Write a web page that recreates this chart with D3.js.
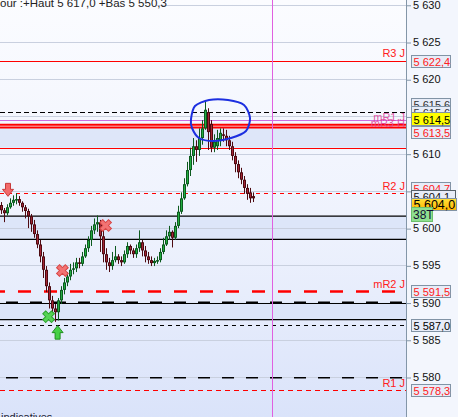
<!DOCTYPE html>
<html><head><meta charset="utf-8">
<script src="https://cdn.jsdelivr.net/npm/d3@7"></script>
<style>html,body{margin:0;padding:0;overflow:hidden;background:#f6f8fe}svg{display:block}</style>
</head><body><svg id="c" width="458" height="417"></svg>
<script>
// ---- data ----
const opens  = [5603.1,5602.4,5602.0,5602.8,5603.4,5603.8,5603.9,5603.4,5602.8,5602.3,5601.6,5600.5,5599.2,5597.8,5596.2,5594.4,5592.2,5590.3,5589.2,5588.7,5590.3,5591.7,5592.7,5593.5,5594.4,5594.6,5595.4,5595.2,5596.2,5597.3,5598.4,5599.7,5600.5,5600.8,5598.9,5596.5,5595.4,5594.9,5595.7,5596.2,5595.7,5595.4,5596.5,5597.6,5597.0,5596.5,5597.3,5598.1,5597.0,5596.2,5595.7,5595.3,5595.6,5595.7,5596.8,5597.8,5598.9,5599.5,5598.7,5600.3,5602.2,5604.0,5605.9,5607.8,5609.7,5611.0,5610.5,5612.1,5613.4,5615.6,5614.0,5610.8,5611.0,5611.8,5612.6,5612.4,5611.8,5611.0,5609.7,5608.6,5607.5,5606.5,5605.4,5604.8,5604.3];
const highs  = [5603.5,5602.7,5603.2,5604.0,5604.4,5604.7,5604.3,5603.6,5603.1,5602.6,5601.9,5601.1,5599.7,5598.4,5596.8,5594.9,5592.7,5590.9,5589.8,5590.6,5592.2,5593.3,5594.1,5595.2,5595.4,5596.0,5596.0,5596.8,5597.8,5598.9,5600.3,5601.3,5601.7,5601.1,5599.7,5597.3,5596.0,5596.8,5597.6,5596.5,5596.2,5597.0,5598.1,5597.8,5597.3,5597.8,5599.7,5598.4,5597.6,5596.8,5596.2,5596.0,5596.2,5597.3,5598.7,5599.7,5600.3,5599.7,5600.8,5603.0,5604.8,5606.7,5608.9,5610.8,5612.1,5611.8,5613.4,5614.5,5617.0,5616.1,5614.5,5612.6,5613.2,5613.4,5613.4,5613.2,5612.4,5611.6,5610.2,5609.1,5608.1,5607.0,5605.9,5605.4,5604.8];
const lows   = [5601.9,5600.8,5601.7,5602.6,5603.0,5603.2,5603.0,5602.2,5601.3,5600.0,5599.5,5598.7,5597.3,5595.4,5593.3,5591.4,5589.2,5588.2,5587.4,5587.6,5589.8,5591.1,5592.2,5593.0,5593.8,5594.1,5594.6,5594.9,5596.0,5596.8,5597.6,5599.2,5599.5,5596.8,5595.4,5594.4,5594.1,5594.4,5595.4,5595.2,5594.9,5595.2,5596.0,5596.5,5596.0,5596.0,5596.8,5596.2,5595.4,5595.2,5594.9,5594.9,5595.2,5595.4,5596.5,5597.6,5598.4,5597.4,5598.4,5600.0,5601.9,5603.8,5605.6,5607.0,5608.5,5608.9,5609.7,5611.2,5613.2,5610.5,5610.2,5610.2,5610.5,5611.0,5611.6,5611.0,5610.5,5609.1,5607.5,5606.7,5605.9,5604.6,5603.8,5603.4,5603.5];
const closes = [5602.4,5602.0,5602.8,5603.4,5603.8,5603.9,5603.4,5602.8,5602.3,5601.6,5600.5,5599.2,5597.8,5596.2,5594.4,5592.2,5590.3,5589.2,5588.7,5590.3,5591.7,5592.7,5593.5,5594.4,5594.6,5595.4,5595.2,5596.2,5597.3,5598.4,5599.7,5600.5,5600.8,5598.9,5596.5,5595.4,5594.9,5595.7,5596.2,5595.7,5595.4,5596.5,5597.6,5597.0,5596.5,5597.3,5598.1,5597.0,5596.2,5595.7,5595.3,5595.6,5595.7,5596.8,5597.8,5598.9,5599.5,5598.7,5600.3,5602.2,5604.0,5605.9,5607.8,5609.7,5611.0,5610.5,5612.1,5613.4,5615.9,5612.9,5610.8,5611.6,5612.1,5612.8,5612.4,5611.8,5611.0,5609.7,5608.6,5607.5,5606.5,5605.4,5604.6,5604.0,5604.0];
const yTicks = [5580,5585,5590,5595,5600,5605,5610,5615,5620,5625,5630];
const lineLevels = [5622.4,5615.6,5614.5,5613.9,5613.5,5610.8,5604.7,5601.6,5598.5,5591.5,5590.0,5590.0,5587.7,5587.0,5579.9,5578.3];
const levelNames = ["R3 J","mR1 J","mR3 H","R2 J","mR2 J","R1 J"];
const levelNameVals = [5622.4,5614.6,5614.2,5604.7,5591.5,5578.3];
const priceLabels = [5622.4,5615.6,5615.6,5614.5,5613.5,5604.7,5604.1,5604.0,5591.5,5587.0,5578.3];
const headerText = "our :+Haut 5 617,0 +Bas 5 550,3";
const footerText = "indicatives";
const timerText = "38T";
const buySignals = [[15.7,5588.1]];                // green cross (bar position, price)
const sellSignals = [[20.3,5594.3],[34.7,5600.35]]; // red crosses
const downArrow = [2,5604.4];
const upArrow = [18.7,5586.9];
const bandPairs = [[5613.5,5610.8],[5601.6,5598.5],[5590.0,5587.7]];
const vLineIndex = 90.3;

// ---- setup ----
const W=458,H=417, AX=406;
const svg=d3.select('#c');
const FONT='"Liberation Sans", Arial, sans-serif';
const loc=d3.formatLocale({decimal:",",thousands:" ",grouping:[3],currency:["",""]});
const f1=loc.format(",.1f"), f0=loc.format(",.0f");
const x=d3.scaleLinear().domain([0,closes.length-1]).range([1.5,253.5]);
const y=d3.scaleLinear().domain([5580,5625]).range([377,42]);
const py=v=>Math.round(y(v))+0.5;

const defs=svg.append('defs');
const g1=defs.append('linearGradient').attr('id','bg').attr('x1',0).attr('y1',0).attr('x2',0).attr('y2',1);
g1.append('stop').attr('offset',0).attr('stop-color','#fbfcff');
g1.append('stop').attr('offset',0.55).attr('stop-color','#eef2fd');
g1.append('stop').attr('offset',1).attr('stop-color','#dae3fa');
const g2=defs.append('linearGradient').attr('id','org').attr('x1',0).attr('y1',0).attr('x2',0).attr('y2',1);
g2.append('stop').attr('offset',0).attr('stop-color','#ffe23a');
g2.append('stop').attr('offset',1).attr('stop-color','#ffb300');

svg.append('rect').attr('width',W).attr('height',H).attr('fill','url(#bg)');
svg.append('rect').attr('x',AX).attr('width',W-AX).attr('height',H).attr('fill','#f3f6fd');

// bands
svg.selectAll('.band').data(bandPairs).enter().append('rect')
  .attr('x',0).attr('width',AX).attr('y',d=>y(d[0])).attr('height',d=>y(d[1])-y(d[0]))
  .attr('fill','#d8e2f8').attr('opacity',0.8);

// grid
svg.selectAll('.grid').data(yTicks).enter().append('line')
  .attr('x1',0).attr('x2',AX).attr('y1',d=>py(d)).attr('y2',d=>py(d))
  .attr('stroke','#c9d0df').attr('stroke-width',1);

// level line styles (by index in lineLevels)
const st=[
 {c:'#ff0000',w:1},
 {c:'#000',w:1,d:'5,3'},
 {c:'#cc6ee0',w:1},
 {c:'#ff0000',w:2},
 {c:'#ff0000',w:2},
 {c:'#ff0000',w:1},
 {c:'#ff0000',w:1,d:'4,4'},
 {c:'#000',w:1.3},
 {c:'#000',w:1.3},
 {c:'#ff0000',w:2.5,d:'13,13',o:8},
 {c:'#000',w:1},
 {c:'#000',w:2,d:'12,12',o:18},
 {c:'#000',w:1.3},
 {c:'#000',w:1,d:'4,4'},
 {c:'#000',w:1.3,d:'12,12',o:18},
 {c:'#ff0000',w:1,d:'5,4'}
];
lineLevels.forEach((v,i)=>{
  const s=st[i]; const yy = s.w===1?py(v):y(v);
  svg.append('line').attr('x1',0).attr('x2',AX).attr('y1',yy).attr('y2',yy)
   .attr('stroke',s.c).attr('stroke-width',s.w)
   .attr('stroke-dasharray',s.d||null).attr('stroke-dashoffset',s.o||0);
});

// vertical magenta line
svg.append('line').attr('x1',Math.round(x(vLineIndex))+0.5).attr('x2',Math.round(x(vLineIndex))+0.5)
  .attr('y1',0).attr('y2',H).attr('stroke','#e060e0').attr('stroke-width',1);

// candles
const cg=svg.append('g');
closes.forEach((c,i)=>{
  const o=opens[i],h=highs[i],l=lows[i];
  const up=c>=o;
  const dark=up?'#0c5a1e':'#4d0a10', light=up?'#22ad40':'#a42636';
  const cx=Math.round(x(i)-1.5);
  cg.append('line').attr('x1',cx+1.5).attr('x2',cx+1.5).attr('y1',y(h)).attr('y2',y(l))
    .attr('stroke',dark).attr('stroke-width',1);
  const t=y(Math.max(o,c)), b=y(Math.min(o,c));
  const hh=Math.max(1.5,b-t);
  cg.append('rect').attr('x',cx).attr('width',3).attr('y',t).attr('height',hh).attr('fill',dark);
  if(hh>2) cg.append('rect').attr('x',cx+1).attr('width',1).attr('y',t+1).attr('height',hh-2).attr('fill',light);
});

// signals
const cross=d3.symbol().type(d3.symbolCross).size(85);
sellSignals.forEach(d=>{
  svg.append('path').attr('d',cross()).attr('transform',`translate(${x(d[0])},${y(d[1])}) rotate(45)`)
   .attr('fill','#f27373').attr('stroke','#d84545').attr('stroke-width',1);
});
buySignals.forEach(d=>{
  svg.append('path').attr('d',cross()).attr('transform',`translate(${x(d[0])},${y(d[1])}) rotate(45)`)
   .attr('fill','#55d455').attr('stroke','#2ea32e').attr('stroke-width',1);
});
// arrows
{
  const ax=x(downArrow[0])+0.5, ay=y(downArrow[1]);
  svg.append('path').attr('d',`M${ax-2.5},${ay-12}h5v6h3l-5.5,7l-5.5,-7h3z`)
   .attr('fill','#f26a6a').attr('stroke','#c83a3a').attr('stroke-width',1);
  const bx=x(upArrow[0]), by=y(upArrow[1]);
  svg.append('path').attr('d',`M${bx},${by}l5.5,7h-3v6.5h-5v-6.5h-3z`)
   .attr('fill','#46d146').attr('stroke','#1f8f1f').attr('stroke-width',1);
}

// hand-drawn ellipse
const ell=[[191,119],[195,106],[209,100],[228,100],[244,105],[250,118],[246,131],[231,138],[213,141],[199,138],[192,128]];
svg.append('path').attr('d',d3.line().curve(d3.curveCardinalClosed.tension(0.2))(ell))
  .attr('fill','none').attr('stroke','#1c2fe0').attr('stroke-width',2);

// header / footer
svg.append('rect').attr('x',0).attr('y',0).attr('width',156).attr('height',9).attr('fill','#fbfcff');
svg.append('text').attr('x',0).attr('y',7).attr('font-family',FONT).attr('font-size',11.5)
  .attr('fill','#222').text(headerText);
svg.append('text').attr('x',1).attr('y',421).attr('font-family',FONT).attr('font-size',11)
  .attr('fill','#223').text(footerText);

// level names
const nameColors=['#ff2020','#e0409a','#e0409a','#ff2020','#ff2020','#ff2020'];
const nameDy=[-4,2,5,-3,-3,-3];
levelNames.forEach((n,i)=>{
  svg.append('text').attr('x',405).attr('y',y(levelNameVals[i])+nameDy[i]).attr('text-anchor','end')
   .attr('font-family',FONT).attr('font-size',11).attr('fill',nameColors[i])
   .attr('opacity',i===1||i===2?0.85:1).text(n);
});

// axis
svg.append('line').attr('x1',AX+0.5).attr('x2',AX+0.5).attr('y1',0).attr('y2',H).attr('stroke','#8396a8');
const axis=d3.axisRight(y).tickValues(yTicks).tickSize(5).tickPadding(2).tickFormat(d=>f0(d));
const ag=svg.append('g').attr('transform',`translate(${AX},0)`).call(axis);
ag.select('.domain').remove();
ag.selectAll('line').attr('stroke','#8396a8').attr('transform','translate(0,0.5)');
ag.selectAll('text').attr('font-family',FONT).attr('font-size',11).attr('fill','#111');

// price boxes (layout stacking done here; values from priceLabels)
const boxSpec=[
 {top:v=>Math.round(y(v))-6, col:'#ff2020'},
 {top:v=>98, col:'#333'},
 {top:v=>106, col:'#333'},
 {top:v=>112, col:'#000', fill:'#ffff00', h:13},
 {top:v=>126, col:'#ff2020'},
 {top:v=>182, col:'#ff2020'},
 {top:v=>190, col:'#111', w:44, stroke:'#55606a'},
 {top:v=>198, col:'#000', fill:'url(#org)', w:45, fs:12.5, h:12},
 {top:v=>Math.round(y(v))-6, col:'#ff2020'},
 {top:v=>Math.round(y(v))-6, col:'#000'},
 {top:v=>Math.round(y(v))-6, col:'#ff2020'}
];
priceLabels.forEach((v,i)=>{
  const s=boxSpec[i]; const t=s.top(v); const w=s.w||39, h=s.h||12;
  svg.append('rect').attr('x',411.5).attr('y',t+0.5).attr('width',w).attr('height',h)
   .attr('fill',s.fill||'#e7ecf8').attr('stroke',s.stroke||'#8193a5');
  svg.append('text').attr('x',413.5).attr('y',t+h-1.5).attr('font-family',FONT)
   .attr('font-size',s.fs||11).attr('fill',s.col).text(f1(v));
});
svg.append('rect').attr('x',411.5).attr('y',207.5).attr('width',21).attr('height',14)
  .attr('fill','#8fe08f').attr('stroke','#6cbf6c');
svg.append('text').attr('x',413).attr('y',218.5).attr('font-family',FONT).attr('font-size',12)
  .attr('fill','#113').text(timerText);
</script></body></html>
